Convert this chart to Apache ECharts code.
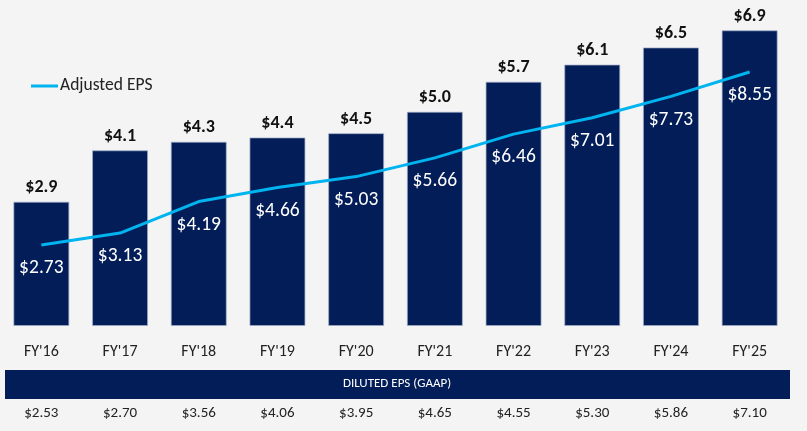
<!DOCTYPE html>
<html lang="en">
<head>
    <meta charset="UTF-8">
    <title>EPS</title>
    <script src="https://cdn.jsdelivr.net/npm/echarts@6/dist/echarts.min.js"></script>
    <style>
        html, body { margin: 0; padding: 0; background: #f4f4f4; }
        #chart { width: 807px; height: 431px; }
    </style>
</head>
<body>
    <div id="chart"></div>
<script>
    var years = ["FY'16", "FY'17", "FY'18", "FY'19", "FY'20", "FY'21", "FY'22", "FY'23", "FY'24", "FY'25"];
    var barValues = [2.9, 4.1, 4.3, 4.4, 4.5, 5.0, 5.7, 6.1, 6.5, 6.9];
    var adjustedEps = [2.73, 3.13, 4.19, 4.66, 5.03, 5.66, 6.46, 7.01, 7.73, 8.55];
    var dilutedEps = ['$2.53', '$2.70', '$3.56', '$4.06', '$3.95', '$4.65', '$4.55', '$5.30', '$5.86', '$7.10'];

    var navy = '#021d58';
    var cyan = '#00b4ef';
    var font = 'Carlito, Lato, sans-serif';

    var myChart = echarts.init(document.getElementById('chart'));
    var option = {
        backgroundColor: '#f4f4f4',
        textStyle: { fontFamily: font },
        legend: {
            data: [{ name: 'Adjusted EPS', icon: 'rect', itemStyle: { color: cyan, opacity: 1 } }],
            left: 26,
            top: 72,
            itemWidth: 27,
            itemHeight: 3,
            itemGap: 4,
            textStyle: { fontSize: 17.5, color: '#222', fontFamily: font, padding: [0, 0, 0, -3] }
        },
        grid: { left: 2, right: 18, top: 26, bottom: 105 },
        xAxis: [{
            type: 'category',
            data: years,
            axisLine: { show: false },
            axisTick: { show: false },
            axisLabel: { fontSize: 16, color: '#222', margin: 18, fontFamily: font }
        }, {
            // GAAP row under the band
            type: 'category',
            data: dilutedEps,
            position: 'bottom',
            offset: 70,
            axisLine: { show: false },
            axisTick: { show: false },
            axisLabel: { fontSize: 15, color: '#222', margin: 10, fontFamily: font }
        }],
        yAxis: [{
            type: 'value', min: 0, max: 7, show: false
        }, {
            type: 'value', min: 0, max: 10.1, show: false
        }],
        graphic: [{
            type: 'rect',
            shape: { x: 5, y: 370, width: 785, height: 29 },
            style: { fill: navy }
        }, {
            type: 'text',
            x: 397, y: 384,
            style: {
                text: 'DILUTED EPS (GAAP)', fill: '#fff', fontSize: 13,
                fontFamily: font, align: 'center', verticalAlign: 'middle'
            }
        }],
        series: [{
            name: 'Diluted',
            type: 'bar',
            data: barValues,
            barWidth: 56,
            itemStyle: { color: navy, borderColor: 'rgba(160,172,200,0.7)', borderWidth: 1 },
            label: {
                show: true, position: 'top', distance: 5,
                fontSize: 18, fontWeight: 'bold', color: '#111', fontFamily: font,
                formatter: function (p) { return '$' + p.value.toFixed(1); }
            }
        }, {
            name: 'Adjusted EPS',
            type: 'line',
            yAxisIndex: 1,
            data: adjustedEps,
            symbol: 'circle',
            symbolSize: 0.5,
            showSymbol: true,
            z: 5,
            lineStyle: { color: cyan, width: 3 },
            itemStyle: { color: cyan },
            label: {
                show: true, position: 'bottom', distance: 13,
                fontSize: 19.5, color: '#fff', fontFamily: font,
                formatter: function (p) { return '$' + p.value.toFixed(2); }
            }
        }]
    };
    myChart.setOption(option);
</script>
</body>
</html>
